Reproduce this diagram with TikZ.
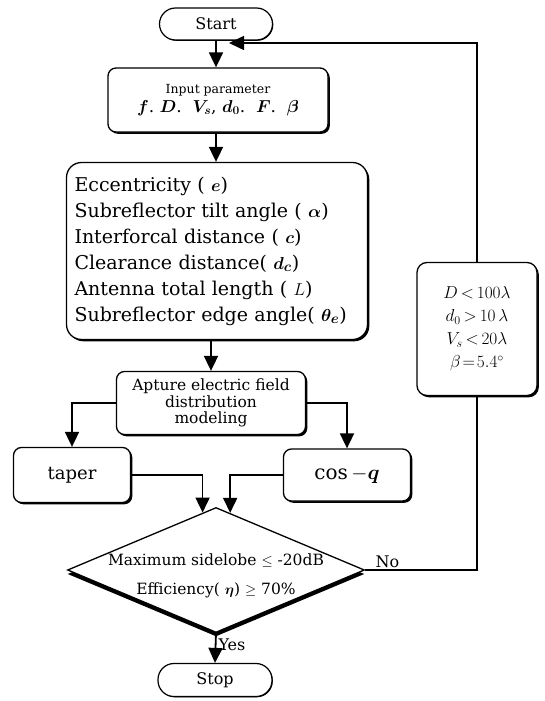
\documentclass[tikz,border=0pt]{standalone}
\usepackage{amsmath,amssymb}
\usepackage{fontspec}
\setmainfont{DejaVu Serif}
\usepackage{tikz}
\usetikzlibrary{
  arrows.meta,
  shapes.geometric,
  shadows,
  calc
}
\tikzset{
  procbox/.style={draw, line width=1.3pt, rounded corners=8pt, fill=white,
    align=center,
    drop shadow={shadow xshift=1.8pt, shadow yshift=-1.8pt,
      opacity=1, fill=black}},
  termbox/.style={draw, line width=1.2pt, rounded corners=16pt, fill=white,
    minimum height=32pt, font=\fontsize{16}{18}\selectfont,
    drop shadow={shadow xshift=0.8pt, shadow yshift=-0.8pt,
      opacity=1, fill=black}},
  decision/.style={draw, shape=diamond, line width=1.3pt, fill=white,
    inner sep=0pt, minimum width=297pt, minimum height=125pt,
    drop shadow={shadow xshift=0pt, shadow yshift=-4pt,
      opacity=1, fill=black}},
  arr/.style={-{Triangle[width=14pt,length=15pt]}, line width=1.8pt},
  thinline/.style={line width=1.4pt},
}

\begin{document}
\begin{tikzpicture}[x=1pt, y=-1pt,
  cond/.style={font=\fontsize{15.5}{29}\selectfont, align=center},
  tag/.style={font=\fontsize{16}{18}\selectfont, inner sep=2pt}
]
  \useasboundingbox (0,0) rectangle (544,701);

  % Main column
  \node[termbox, minimum width=113pt] (start) at (216,24) {Start};
  \node[procbox, minimum width=220pt, minimum height=64pt] (input) at (218,100) {
    {\fontsize{12.5}{15}\selectfont Input parameter}\\[3pt]
    {\fontsize{17}{18}\selectfont\boldmath $f$.\ $D$.\ \ $V_s$, $d_0$.\ \ $F$.\ \ $\beta$}
  };
  \node[procbox, rounded corners=15pt, minimum width=301pt, minimum height=177pt,
        align=left, text width=285pt, font=\fontsize{19}{26}\selectfont] (params) at (217,251) {
    Eccentricity ( $\boldsymbol{e}$)\\
    Subreflector tilt angle ( $\boldsymbol{\alpha}$)\\
    Interforcal distance ( $\boldsymbol{c}$)\\
    Clearance distance( $\boldsymbol{d_c}$)\\
    Antenna total length ( $L$)\\
    Subreflector edge angle( $\boldsymbol{\theta_e}$)
  };
  \node[procbox, minimum width=189pt, minimum height=63pt,
        font=\fontsize{15.5}{16.5}\selectfont] (apture) at (211,403) {
    Apture electric field\\ distribution\\ modeling
  };

  % Two field models
  \node[procbox, minimum width=117pt, minimum height=55pt,
        font=\fontsize{18}{20}\selectfont] (taper) at (72,475) {taper};
  \node[procbox, minimum width=127pt, minimum height=52pt,
        font=\fontsize{20}{22}\selectfont] (cosq) at (347,475) {$\cos - \boldsymbol{q}$};

  % Check and end
  \node[decision] (check) at (216,570) {};
  \node[cond] (checktxt) at (216,576) {
    Maximum sidelobe $\leq$ -20dB\\
    Efficiency( $\boldsymbol{\eta}$) $\geq$ 70\%
  };
  \node[termbox, minimum width=114pt, minimum height=33pt] (stop) at (215,680) {Stop};

  % Limits on the right
  \node[procbox, rounded corners=10pt, minimum width=120pt, minimum height=133pt,
        font=\fontsize{17}{23}\selectfont] (limits) at (477,329) {
    $D\,{<}\,100\lambda$\\
    $d_0\,{>}\,10\,\lambda$\\
    $V_s\,{<}\,20\lambda$\\
    $\beta\!=\!5.4^{\circ}$
  };

  \coordinate (inL) at ($(check.north)!0.09!(check.west)$);
  \coordinate (inR) at ($(check.north)!0.095!(check.east)$);
  \coordinate (back) at (229,43);

  % Arrows
  \draw[arr] (start.south) -- (start.south |- input.north);
  \draw[arr] (start.south |- input.south) -- (start.south |- params.north);
  \draw[arr] (params.south -| apture.north) -- (apture.north);
  \draw[arr] (apture.west) -| (taper.north);
  \draw[arr] (apture.east) -| (cosq.north);
  \draw[arr] (taper.east) -| (inL);
  \draw[arr] (cosq.west) -| (inR);
  \draw[arr] (check.south) -- (stop.north)
    node[pos=0.4, right, tag] {Yes};
  \draw[thinline] (check.east) -| (limits.south)
    node[pos=0.1, above, tag] {No};
  \draw[arr, line width=1.5pt] (limits.north) |- (back);
\end{tikzpicture}
\end{document}
